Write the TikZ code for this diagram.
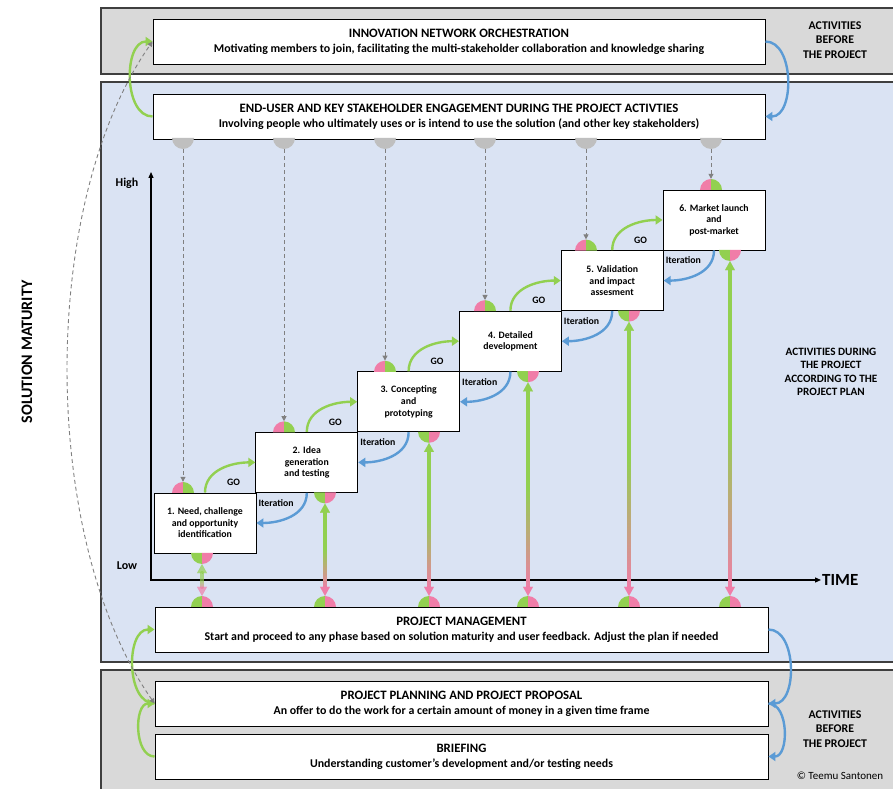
\documentclass[tikz,border=0pt]{standalone}
\usepackage{fontspec}
\setmainfont{Carlito}
\usetikzlibrary{arrows.meta,calc}

\definecolor{bandgray}{HTML}{D9D9D9}
\definecolor{bandblue}{HTML}{DAE3F3}
\definecolor{bandline}{HTML}{3F3F3F}
\definecolor{gogreen}{HTML}{92D050}
\definecolor{itblue}{HTML}{5B9BD5}
\definecolor{halfpink}{HTML}{F07DA8}
\definecolor{dotgray}{HTML}{BFBFBF}
\definecolor{probegray}{HTML}{808080}

\newcommand\wtitle[1]{{\fontsize{12.8}{15}\selectfont #1}}

\tikzset{
  widebox/.style={draw, fill=white, line width=0.9pt, minimum width=612pt, minimum height=45pt, align=center, inner sep=1pt, font=\bfseries\fontsize{11.9}{14}\selectfont},
  stepbox/.style={draw, fill=white, line width=0.9pt, minimum width=102pt, minimum height=60pt, align=center, inner sep=1pt, font=\bfseries\fontsize{9.8}{11.6}\selectfont},
  dot/.style={circle, minimum size=22pt, inner sep=0pt},
  lbl/.style={inner sep=0pt, font=\bfseries\fontsize{9.8}{12}\selectfont},
  side/.style={align=center, inner sep=0pt, font=\bfseries\fontsize{11.8}{14.6}\selectfont},
  goarrow/.style={gogreen, line width=2.4pt, -{Triangle[width=9pt,length=7pt]}},
  itarrow/.style={itblue, line width=2.4pt, -{Triangle[width=9pt,length=7pt]}},
  probe/.style={probegray, line width=0.9pt, dash pattern=on 4pt off 3pt, -{Triangle[width=5pt,length=5pt]}},
  headonly/.style={line width=0.1pt, -{Triangle[width=10pt,length=9pt]}}
}

\begin{document}
\begin{tikzpicture}[x=1pt, y=1pt]
\useasboundingbox (0,0) rectangle (893,789);
\fill[bandgray] (101,715) rectangle (893,781);
\draw[bandline, line width=1.1pt] (893,781) -- (101,781) -- (101,715) -- (893,715);
\fill[bandblue] (101,127) rectangle (893,707);
\draw[bandline, line width=1.1pt] (893,707) -- (101,707) -- (101,127) -- (893,127);
\fill[bandgray] (101,0) rectangle (893,119);
\draw[bandline, line width=1.1pt] (893,119) -- (101,119) -- (101,0);

\coordinate (ytop) at (151,617);
\coordinate (orig) at (151,209);
\coordinate (xend) at (821,209);
\draw[line width=1.2pt, {Triangle[width=5pt,length=6pt]}-{Triangle[width=5pt,length=6pt]}] (ytop) -- (orig) -- (xend);
\node[anchor=west, inner sep=1pt, font=\bfseries\fontsize{17}{20}\selectfont] (time) at (xend) {TIME};
\node[lbl, font=\bfseries\fontsize{12}{14}\selectfont] (high) at (127,606) {High};
\node[lbl, font=\bfseries\fontsize{12}{14}\selectfont] (low) at (127,223) {Low};
\node[rotate=90, font=\bfseries\fontsize{16}{19}\selectfont] (smat) at (27,437) {SOLUTION MATURITY};

\node[widebox] (inn) at (459,747.5) {\wtitle{INNOVATION NETWORK ORCHESTRATION}\\[1pt]Motivating members to join, facilitating the multi-stakeholder collaboration and knowledge sharing};
\node[widebox] (eng) at (459,672.5) {\wtitle{END-USER AND KEY STAKEHOLDER ENGAGEMENT DURING THE PROJECT ACTIVTIES}\\[1pt]Involving people who ultimately uses or is intend to use the solution (and other key stakeholders)};
\node[widebox, minimum width=613pt] (pm) at (461.5,159.5) {\wtitle{PROJECT MANAGEMENT}\\[1pt]Start and proceed to any phase based on solution maturity and user feedback. Adjust the plan if needed};
\node[widebox, minimum width=613pt] (plan) at (461.5,85.5) {\wtitle{PROJECT PLANNING AND PROJECT PROPOSAL}\\[1pt]An offer to do the work for a certain amount of money in a given time frame};
\node[widebox, minimum width=613pt] (brief) at (461.5,32.5) {\wtitle{BRIEFING}\\[1pt]Understanding customer’s development and/or testing needs};

\foreach \k/\txt in {1/{1. Need, challenge\\and opportunity\\identification}, 2/{2. Idea\\generation\\and testing}, 3/{3. Concepting\\and\\prototyping}, 4/{4. Detailed\\development}, 5/{5. Validation\\and impact\\assesment}, 6/{6. Market launch\\and\\post-market}}
  \node[stepbox] (s\k) at ({205+(\k-1)*101.8},{266+(\k-1)*60.6}) {\txt};

\foreach \k/\a/\b in {1/183/202, 2/284/325, 3/385/429, 4/485/528, 5/586/629, 6/711/730} {
  \node[dot] (g\k) at (\a,651) {};
  \node[dot] (t\k) at (\a,{296+(\k-1)*60.6}) {};
  \node[dot] (b\k) at (\b,{236+(\k-1)*60.6}) {};
  \node[dot] (p\k) at (\b,182) {};
  \fill[dotgray] (g\k.center) -- ++(180:11) arc (180:360:11) -- cycle;
  \fill[halfpink] (t\k.center) -- ++(90:11) arc (90:180:11) -- cycle;
  \fill[gogreen] (t\k.center) -- ++(0:11) arc (0:90:11) -- cycle;
  \fill[gogreen] (b\k.center) -- ++(180:11) arc (180:270:11) -- cycle;
  \fill[halfpink] (b\k.center) -- ++(270:11) arc (270:360:11) -- cycle;
  \fill[gogreen] (p\k.center) -- ++(90:11) arc (90:180:11) -- cycle;
  \fill[halfpink] (p\k.center) -- ++(0:11) arc (0:90:11) -- cycle;
}

\foreach \k in {1,...,6} \draw[probe] (g\k) -- (t\k);
\foreach \k/\op in {1/0.7, 2/1, 3/1, 4/1, 5/1, 6/1} {
  \shade[opacity=\op, top color=gogreen, bottom color=halfpink, middle color=gogreen] ($(b\k.south)+(-1.3,-7)$) rectangle ($(p\k.north)+(1.3,7)$);
  \draw[gogreen, opacity=\op, headonly] ($(b\k.south)+(0,-9)$) -- (b\k.south);
  \draw[halfpink, opacity=\op, headonly] ($(p\k.north)+(0,9)$) -- (p\k.north);
}

\foreach \k/\n in {1/2, 2/3, 3/4, 4/5, 5/6} {
  \draw[goarrow] (s\k.north) to[out=90, in=180] (s\n.west);
  \node[lbl] (go\k) at ($(s\k.north east)+(-23,10)$) {GO};
  \draw[itarrow] (s\n.south) to[out=-90, in=0] (s\k.east);
  \node[lbl, anchor=west] (it\k) at ($(s\n.south west)+(3,-10)$) {Iteration};
}

\draw[goarrow] (eng.west) to[out=180, in=180] (inn.west);
\draw[itarrow] (inn.east) to[out=0, in=0] (eng.east);
\draw[goarrow] (plan.west) to[out=180, in=180] (pm.west);
\draw[goarrow] (brief.west) to[out=180, in=180] (plan.west);
\draw[itarrow] (pm.east) to[out=0, in=0] (plan.east);
\draw[itarrow] (plan.east) to[out=0, in=0] (brief.east);
\draw[probe, {Triangle[width=5pt,length=5pt]}-{Triangle[width=5pt,length=5pt]}] (plan.west) to[out=125, in=235, looseness=0.77] (inn.west);

\node[side] (before1) at (835,749) {ACTIVITIES\\BEFORE\\THE PROJECT};
\node[side, font=\bfseries\fontsize{11.2}{13.3}\selectfont] (during) at (831,417) {ACTIVITIES DURING\\THE PROJECT\\ACCORDING TO THE\\PROJECT PLAN};
\node[side] (before2) at (835,60) {ACTIVITIES\\BEFORE\\THE PROJECT};
\node[inner sep=0pt, font=\fontsize{11}{13}\selectfont] (copy) at (840,13) {\textcopyright{} Teemu Santonen};
\end{tikzpicture}
\end{document}
